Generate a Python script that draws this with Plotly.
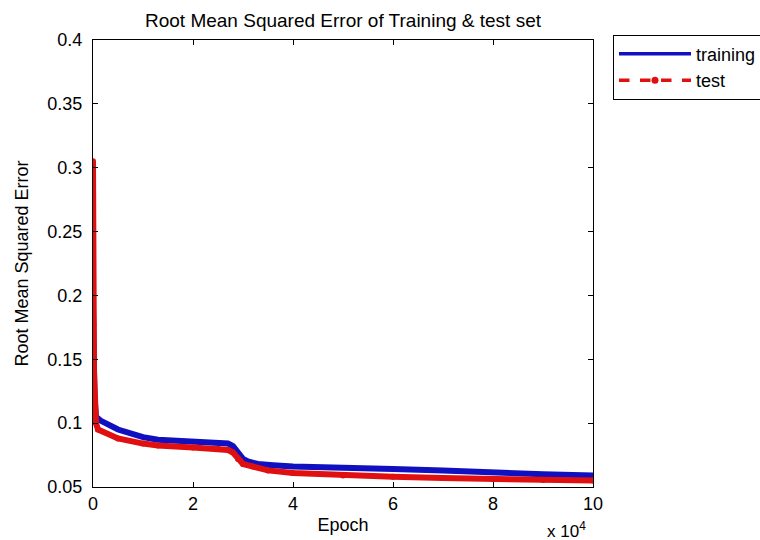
import plotly.graph_objects as go

# Training RMSE (epoch, value)
train_epoch = [0, 100, 300, 600, 1500, 5000, 10000, 13000, 20000, 25000, 27000, 28000,
               29000, 30000, 31000, 33000, 36000, 40000, 50000, 55000, 60000, 70000,
               80000, 90000, 100000]
train_rmse = [0.19, 0.15, 0.12, 0.105, 0.102, 0.095, 0.089, 0.087, 0.086, 0.085, 0.084, 0.082,
              0.077, 0.072, 0.070, 0.068, 0.067, 0.066, 0.065, 0.065, 0.064, 0.063,
              0.061, 0.060, 0.059]

# Test RMSE (epoch, value)
test_epoch = [0, 40, 80, 150, 200, 400, 600, 1000, 5000, 10000, 13000, 20000, 25000, 27000,
              28000, 29000, 30000, 32000, 35000, 40000, 50000, 60000, 70000, 80000, 90000, 100000]
test_rmse = [0.305, 0.181, 0.177, 0.148, 0.14, 0.12, 0.10, 0.095, 0.088, 0.084, 0.0825, 0.081,
             0.080, 0.079, 0.077, 0.072, 0.068, 0.066, 0.063, 0.061, 0.059, 0.058, 0.057,
             0.0562, 0.0555, 0.055]

x_tickvals = [0, 20000, 40000, 60000, 80000, 100000]
x_ticktext = ["0", "2", "4", "6", "8", "10"]
y_tickvals = [0.05, 0.1, 0.15, 0.2, 0.25, 0.3, 0.35, 0.4]
y_ticktext = ["0.05", "0.1", "0.15", "0.2", "0.25", "0.3", "0.35", "0.4"]

BLUE = "#1010c0"
RED = "#e01010"
FONT = "Liberation Sans, Arial, sans-serif"

fig = go.Figure()
fig.add_trace(go.Scatter(x=train_epoch, y=train_rmse, mode="lines",
                         line=dict(color=BLUE, width=6), showlegend=False))
fig.add_trace(go.Scatter(x=test_epoch, y=test_rmse, mode="lines+markers",
                         line=dict(color=RED, width=6),
                         marker=dict(color=RED, size=6), showlegend=False))
# legend entries
fig.add_trace(go.Scatter(x=[None], y=[None], mode="lines", name="training",
                         line=dict(color=BLUE, width=3.5)))
fig.add_trace(go.Scatter(x=[None], y=[None], mode="lines+markers", name="test",
                         line=dict(color=RED, width=3.5, dash="dash"),
                         marker=dict(color=RED, size=7)))

axis_common = dict(showline=True, linecolor="black", linewidth=1, mirror="ticks",
                   ticks="inside", ticklen=5, tickcolor="black", showgrid=False,
                   zeroline=False, tickfont=dict(size=18, color="black", family=FONT))

fig.update_layout(
    width=760, height=540,
    margin=dict(l=93, r=167, t=40, b=53, autoexpand=False),
    paper_bgcolor="white", plot_bgcolor="white",
    font=dict(family=FONT, size=18, color="black"),
    title=dict(text="Root Mean Squared Error of Training & test set",
               x=(93 + 593) / 2 / 760, xanchor="center",
               y=1 - 20 / 540, yanchor="middle", yref="container",
               font=dict(size=19, color="black")),
    xaxis=dict(range=[0, 100000], tickvals=x_tickvals, ticktext=x_ticktext,
               title=dict(text="Epoch", standoff=5, font=dict(size=18)), **axis_common),
    yaxis=dict(range=[0.05, 0.4], tickvals=y_tickvals, ticktext=y_ticktext,
               ticklabelstandoff=6,
               title=dict(text="Root Mean Squared Error", standoff=14, font=dict(size=18)),
               **axis_common),
    legend=dict(x=(613 - 93) / 500, y=1.012, xanchor="left", yanchor="top",
                bordercolor="black", borderwidth=1, bgcolor="white",
                font=dict(size=18), itemwidth=72, tracegroupgap=0),
    annotations=[dict(text="x 10<sup>4</sup>", xref="paper", yref="paper",
                      x=0.99, y=-0.068, xanchor="right", yanchor="top",
                      showarrow=False, font=dict(size=17))],
)

fig.write_html("out.html")
